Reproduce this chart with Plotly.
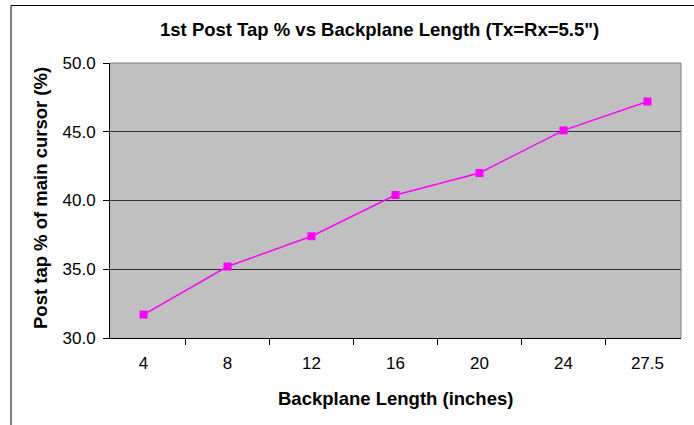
import plotly.graph_objects as go

lengths = ["4", "8", "12", "16", "20", "24", "27.5"]
post_tap = [31.7, 35.2, 37.4, 40.4, 42.0, 45.1, 47.2]
y_ticks = [30, 35, 40, 45, 50]
y_tick_labels = ["30.0", "35.0", "40.0", "45.0", "50.0"]

W, H = 694, 425
L, R, T, B = 110, 681, 63, 338

def px(x):
    return (x - L) / (R - L)

def py(y):
    return (B - y) / (B - T)

fig = go.Figure()
fig.add_trace(go.Scatter(
    x=lengths, y=post_tap, mode="lines+markers",
    line=dict(color="#FF00FF", width=1.5),
    marker=dict(symbol="square", size=8, color="#FF00FF"),
    showlegend=False, cliponaxis=False,
))

font = "Liberation Sans, Arial, sans-serif"
fig.update_layout(
    width=W, height=H,
    margin=dict(l=L, r=W - R, t=T, b=H - B),
    paper_bgcolor="white",
    plot_bgcolor="#C0C0C0",
    font=dict(family=font, size=17, color="black"),
    xaxis=dict(
        type="category", tickson="boundaries",
        ticks="outside", ticklen=6, tickcolor="black", tickwidth=1,
        showline=True, linecolor="black", linewidth=1,
        showgrid=False, zeroline=False,
        tickfont=dict(size=17), ticklabelstandoff=10, fixedrange=True,
    ),
    yaxis=dict(
        range=[30, 50], tickvals=y_ticks, ticktext=y_tick_labels,
        ticks="outside", ticklen=6, tickcolor="black", tickwidth=1,
        showline=True, linecolor="black", linewidth=1,
        showgrid=True, gridcolor="#333333", gridwidth=1,
        zeroline=False, tickfont=dict(size=17), ticklabelstandoff=4,
    ),
)

# plot-area gray border (top, right)
fig.add_shape(type="line", xref="paper", yref="paper", x0=0, x1=1, y0=1, y1=1,
              line=dict(color="#808080", width=1))
fig.add_shape(type="line", xref="paper", yref="paper", x0=1, x1=1, y0=0, y1=1,
              line=dict(color="#808080", width=1))
# outer chart frame (top and left visible)
fig.add_shape(type="line", xref="paper", yref="paper", x0=px(11), x1=px(720), y0=py(5.5), y1=py(5.5),
              line=dict(color="black", width=1))
fig.add_shape(type="line", xref="paper", yref="paper", x0=px(11), x1=px(11), y0=py(5.5), y1=py(440),
              line=dict(color="black", width=1))

fig.add_annotation(text="<b>1st Post Tap % vs Backplane Length (Tx=Rx=5.5\")</b>",
                   xref="paper", yref="paper", x=px(379), y=py(29),
                   showarrow=False, font=dict(size=18.5), xanchor="center", yanchor="middle")
fig.add_annotation(text="<b>Backplane Length (inches)</b>",
                   xref="paper", yref="paper", x=px(395), y=py(398),
                   showarrow=False, font=dict(size=18.5), xanchor="center", yanchor="middle")
fig.add_annotation(text="<b>Post tap % of main cursor (%)</b>",
                   xref="paper", yref="paper", x=px(40), y=py(198), textangle=-90,
                   showarrow=False, font=dict(size=18.5), xanchor="center", yanchor="middle")

fig.write_html("out.html")
